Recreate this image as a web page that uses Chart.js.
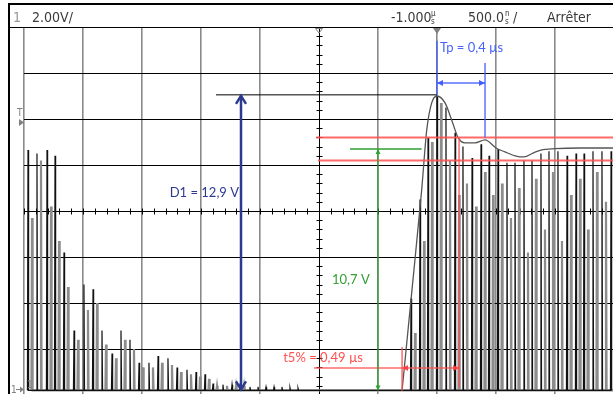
<!DOCTYPE html>
<html>
<head>
<meta charset="utf-8">
<script src="https://cdn.jsdelivr.net/npm/chart.js@4.4.1/dist/chart.umd.min.js"></script>
<style>
  html, body { margin: 0; padding: 0; overflow: hidden; background: #fff; }
  canvas { display: block; }
</style>
</head>
<body>
<canvas id="scope" width="614" height="395"></canvas>
<script>
// screen divisions: 500 ns/div, 2 V/div (ground 0.2 V above bottom line)
const timeDivs = [-3500, -3000, -2500, -2000, -1500, -1000, -500, 0, 500, 1000, 1500];
const voltDivs = [-0.2, 1.8, 3.8, 5.8, 7.8, 9.8, 11.8, 13.8, 15.8];

// decaying burst on the left (ns, V)
const leftTimes = [-3466, -3390, -3305, -3237, -3161, -3076, -2992, -2915, -2839, -2754, -2678, -2602,
                   -2525, -2441, -2364, -2280, -2203, -2119, -2042, -1966, -1898, -1814, -1737, -1669];
const leftPeaks = [10.45, 10.3, 10.45, 10.2, 6.0, 2.6, 4.6, 4.4, 2.6, 1.6, 2.6, 2.2,
                   1.2, 1.2, 1.5, 1.4, 1.0, 0.9, 0.8, 0.7, 0.3, 0.25, 0.25, 0.3];
const leftEcho  = [7.5, 10.0, 8.0, 6.5, 4.5, 2.2, 3.5, 3.8, 2.0, 1.4, 2.2, 1.8,
                   1.0, 1.0, 1.2, 1.1, 0.8, 0.7, 0.6, 0.5, 0.2, 0.2, 0.2, 0.2];

// small ripple after the burst
const rippleTimes = [-1585, -1517, -1449, -1381, -1314, -1246, -1178];
const ripplePeaks = [0.15, 0.15, 0.15, 0.15, 0.15, 0.12, 0.1];

// new burst on the right
const rightTimes = [-220, -144, -76, 0, 76, 153, 220, 297, 373, 441, 517, 593,
                    661, 737, 805, 881, 949, 1025, 1102, 1178, 1246, 1322, 1398, 1475];
const rightPeaks = [4.0, 8.3, 11.0, 12.8, 12.3, 11.2, 10.6, 10.1, 10.7, 10.2, 10.5, 9.9,
                    9.9, 10.0, 10.0, 10.3, 10.4, 10.4, 10.2, 10.3, 10.3, 10.4, 10.4, 10.4];
const rightEcho  = [2.5, 6.5, 10.8, 12.5, 10.0, 8.5, 9.0, 8.0, 9.5, 8.5, 9.0, 7.5,
                    8.8, 6.0, 9.2, 7.0, 9.5, 6.5, 8.5, 9.2, 7.0, 9.5, 8.2, 9.0];

// hand drawn envelope
const envTimes = [-296, -212, -130, -87, -45, 0, 68, 125, 178, 237, 322, 407, 500, 576, 669, 737, 814, 881, 1000, 1212, 1500];
const envVolts = [0, 4.37, 8.71, 11.32, 12.5, 12.8, 12.5, 11.75, 11.0, 10.76, 10.76, 10.89, 10.54, 10.37, 10.19, 10.15, 10.32, 10.45, 10.51, 10.54, 10.54];

// cursor readings
const d1Volts = 12.85;
const finalVolts = 10.5;
const bandVolts = [11.0, 10.0];
const t5Times = [-296, 187];
const tpTimes = [0, 407];

function pulseTrain(times, peaks, shift) {
  const pts = [];
  for (let i = 0; i < times.length; i++) {
    pts.push({x: times[i] + shift - 5, y: 0});
    pts.push({x: times[i] + shift, y: peaks[i]});
    pts.push({x: times[i] + shift + 5, y: 0});
  }
  return pts;
}

const blackTrace = pulseTrain(leftTimes, leftPeaks, 0)
  .concat(pulseTrain(rippleTimes, ripplePeaks, 0))
  .concat(pulseTrain(rightTimes, rightPeaks, 0));
const grayTrace = pulseTrain(leftTimes, leftEcho, 34)
  .concat(pulseTrain(rightTimes, rightEcho, 34));
const envelope = envTimes.map((t, i) => ({x: t, y: envVolts[i]}));

const annoFont = '13px Lato, "Open Sans", sans-serif';
const hdrFont = '14px "Liberation Sans Narrow", "DejaVu Sans Condensed", sans-serif';

function arrowHead(ctx, x, y, dx, dy, len, w) {
  ctx.beginPath();
  ctx.moveTo(x, y);
  ctx.lineTo(x - dx * len - dy * w, y - dy * len + dx * w);
  ctx.lineTo(x - dx * len + dy * w, y - dy * len - dx * w);
  ctx.closePath();
  ctx.fill();
}

function line(ctx, x1, y1, x2, y2) {
  ctx.beginPath();
  ctx.moveTo(x1, y1);
  ctx.lineTo(x2, y2);
  ctx.stroke();
}

const scopePlugin = {
  id: 'scope',
  beforeDraw(chart) {
    const ctx = chart.ctx;
    ctx.save();
    ctx.fillStyle = '#fff';
    ctx.fillRect(0, 0, chart.width, chart.height);
    ctx.restore();
  },
  beforeDatasetsDraw(chart) {
    const ctx = chart.ctx;
    const xs = chart.scales.x, ys = chart.scales.y;
    const cx = Math.round(xs.getPixelForValue(-1000)) + 0.5;
    const cy = Math.round(ys.getPixelForValue(7.8)) + 0.5;
    ctx.save();
    ctx.strokeStyle = '#000';
    ctx.lineWidth = 1;
    for (let t = -3500; t <= 1500; t += 100) {
      const x = Math.round(xs.getPixelForValue(t)) + 0.5;
      line(ctx, x, cy - 3, x, cy + 3);
    }
    for (let v = -0.2; v <= 15.8; v += 0.4) {
      const y = Math.round(ys.getPixelForValue(v)) + 0.5;
      line(ctx, cx - 3, y, cx + 3, y);
    }
    ctx.restore();
  },
  afterDatasetsDraw(chart) {
    const ctx = chart.ctx;
    const xs = chart.scales.x, ys = chart.scales.y;
    const X = v => xs.getPixelForValue(v);
    const Y = v => ys.getPixelForValue(v);
    ctx.save();
    ctx.textBaseline = 'middle';
    ctx.font = annoFont;

    // D1 peak amplitude
    ctx.strokeStyle = '#000';
    ctx.lineWidth = 1;
    line(ctx, X(-1873), Y(d1Volts), X(0), Y(d1Volts));
    ctx.strokeStyle = '#2b3a8f';
    ctx.lineWidth = 2.5;
    const dx = X(-1661);
    line(ctx, dx, Y(0), dx, Y(d1Volts));
    ctx.beginPath();
    ctx.moveTo(dx - 5, Y(d1Volts) + 9); ctx.lineTo(dx, Y(d1Volts) + 1); ctx.lineTo(dx + 5, Y(d1Volts) + 9);
    ctx.moveTo(dx - 5, Y(0) - 9); ctx.lineTo(dx, Y(0) - 1); ctx.lineTo(dx + 5, Y(0) - 9);
    ctx.stroke();
    ctx.fillStyle = '#2b3a8f';
    ctx.textAlign = 'right';
    ctx.fillText('D1 = 12,9 V', dx - 2, Y(8.58));

    // red 5 % band and response time
    ctx.strokeStyle = 'rgba(255,80,80,0.85)';
    ctx.fillStyle = 'rgba(255,60,60,0.9)';
    ctx.lineWidth = 2;
    line(ctx, X(-1025), Y(bandVolts[0]), chart.width, Y(bandVolts[0]));
    line(ctx, X(-1008), Y(bandVolts[1]), chart.width, Y(bandVolts[1]));
    ctx.lineWidth = 1.5;
    line(ctx, X(t5Times[0]), Y(0), X(t5Times[0]), Y(1.89));
    line(ctx, X(t5Times[1]), Y(bandVolts[0]), X(t5Times[1]), Y(0.15));
    line(ctx, X(-1042), Y(0.97), X(t5Times[1]), Y(0.97));
    arrowHead(ctx, X(t5Times[0]), Y(0.97), -1, 0, 6, 3);
    arrowHead(ctx, X(t5Times[1]), Y(0.97), 1, 0, 6, 3);
    ctx.textAlign = 'right';
    ctx.fillText('t5% = 0,49 µs', X(-1000) + 44, Y(1.41));

    // green final value
    ctx.strokeStyle = 'rgba(60,165,60,0.8)';
    ctx.lineWidth = 2;
    line(ctx, X(-737), Y(finalVolts), X(-130), Y(finalVolts));
    ctx.strokeStyle = '#33a033';
    ctx.fillStyle = '#33a033';
    ctx.lineWidth = 1.3;
    const gx = X(-500);
    line(ctx, gx, Y(0), gx, Y(finalVolts));
    arrowHead(ctx, gx, Y(finalVolts), 0, -1, 5, 2.5);
    arrowHead(ctx, gx, Y(0), 0, 1, 5, 2.5);
    ctx.textAlign = 'left';
    ctx.fillText('10,7 V', X(-1000) + 13, Y(4.8));

    // blue pseudo period
    ctx.strokeStyle = 'rgba(60,90,255,0.85)';
    ctx.fillStyle = 'rgba(60,90,255,0.95)';
    ctx.lineWidth = 1.5;
    line(ctx, X(tpTimes[0]), Y(15.2), X(tpTimes[0]), Y(d1Volts));
    line(ctx, X(tpTimes[1]), Y(14.24), X(tpTimes[1]), Y(11.0));
    line(ctx, X(tpTimes[0]), Y(13.37), X(tpTimes[1]), Y(13.37));
    arrowHead(ctx, X(tpTimes[0]), Y(13.37), -1, 0, 6, 3);
    arrowHead(ctx, X(tpTimes[1]), Y(13.37), 1, 0, 6, 3);
    ctx.textAlign = 'left';
    ctx.fillText('Tp = 0,4 µs', X(tpTimes[0]) + 3, Y(14.89));
    ctx.restore();
  },
  afterDraw(chart) {
    const ctx = chart.ctx;
    const xs = chart.scales.x;
    ctx.save();
    ctx.fillStyle = '#fff';
    ctx.fillRect(0, 0, chart.width, 27);
    ctx.fillRect(0, 0, 8, chart.height);
    ctx.fillStyle = '#000';
    ctx.fillRect(8, 3, chart.width, 2);
    ctx.fillRect(8, 3, 2, chart.height);
    ctx.fillRect(10, 27, chart.width, 1);

    // header readouts
    ctx.textBaseline = 'middle';
    ctx.font = hdrFont;
    ctx.fillStyle = '#999';
    ctx.fillText('1', 13, 18);
    ctx.fillStyle = '#3a3a3a';
    ctx.fillText('2.00V/', 32, 18);
    ctx.fillText('-1.000', 391, 18);
    ctx.fillText('500.0', 468, 18);
    ctx.fillText('/', 513, 18);
    ctx.fillText('Arrêter', 547, 18);
    ctx.font = '8px "DejaVu Sans Condensed", sans-serif';
    ctx.fillText('µ', 431, 14);
    ctx.fillText('s', 431, 22);
    ctx.fillText('n', 505, 14);
    ctx.fillText('s', 505, 22);

    // markers
    ctx.fillStyle = '#808080';
    const tx = xs.getPixelForValue(0);
    ctx.beginPath();
    ctx.moveTo(tx - 4, 28); ctx.lineTo(tx + 4, 28); ctx.lineTo(tx, 34); ctx.closePath();
    ctx.fill();
    const cx = xs.getPixelForValue(-1000);
    ctx.strokeStyle = '#808080';
    ctx.lineWidth = 1;
    ctx.beginPath();
    ctx.moveTo(cx - 3.5, 28.5); ctx.lineTo(cx + 3.5, 28.5); ctx.lineTo(cx, 33); ctx.closePath();
    ctx.stroke();
    ctx.font = '10px "DejaVu Sans Condensed", sans-serif';
    ctx.fillText('T', 17, 113);
    ctx.beginPath();
    ctx.moveTo(19, 119); ctx.lineTo(24, 122.5); ctx.lineTo(19, 126); ctx.closePath();
    ctx.fill();
    ctx.fillText('1', 11, 390);
    ctx.fillRect(16, 389, 4, 1);
    ctx.beginPath();
    ctx.moveTo(20, 386.5); ctx.lineTo(24, 389.5); ctx.lineTo(20, 392.5); ctx.closePath();
    ctx.fill();
    ctx.fillText('1', 27, 385);
    ctx.restore();
  }
};

new Chart(document.getElementById('scope').getContext('2d'), {
  type: 'line',
  data: {
    datasets: [
      { data: envelope, borderColor: '#555', borderWidth: 1.3, pointRadius: 0, cubicInterpolationMode: 'monotone' },
      { data: blackTrace, borderColor: '#111', borderWidth: 1.2, pointRadius: 0 },
      { data: grayTrace, borderColor: '#8c8c8c', borderWidth: 2.2, pointRadius: 0 }
    ]
  },
  options: {
    responsive: false,
    animation: false,
    layout: { padding: { left: 24, top: 27, right: 0, bottom: 0 } },
    plugins: { legend: { display: false }, tooltip: { enabled: false } },
    scales: {
      x: {
        type: 'linear', min: -3500, max: 1500,
        afterBuildTicks: s => { s.ticks = timeDivs.map(v => ({value: v})); },
        ticks: { display: false },
        border: { display: false },
        grid: {
          drawTicks: false,
          color: c => (c.tick && c.tick.value === -1000) ? '#000' : '#8a8a8a',
          lineWidth: c => (c.tick && c.tick.value === -1000) ? 1 : 1.6
        }
      },
      y: {
        type: 'linear', min: -0.2, max: 15.8,
        afterBuildTicks: s => { s.ticks = voltDivs.map(v => ({value: v})); },
        ticks: { display: false },
        border: { display: false },
        grid: { drawTicks: false, color: '#000', lineWidth: 1 }
      }
    }
  },
  plugins: [scopePlugin]
});
</script>
</body>
</html>
